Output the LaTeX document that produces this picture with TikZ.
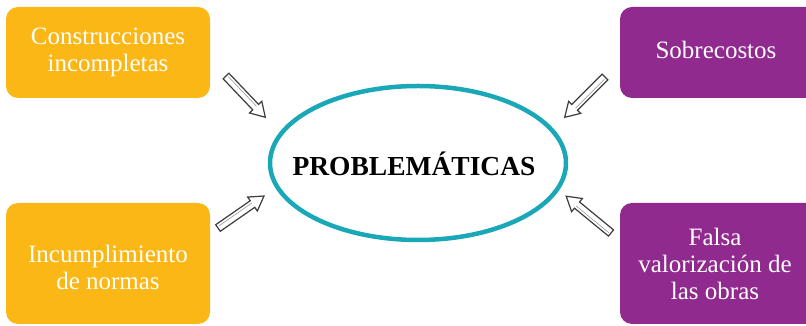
\documentclass[tikz,border=0pt]{standalone}
\usepackage{fontspec}
\setmainfont{Liberation Serif}
\definecolor{boxorange}{HTML}{FBB715}
\definecolor{boxpurple}{HTML}{912A8E}
\definecolor{ringteal}{HTML}{1AA8B9}
\definecolor{arrgray}{HTML}{3C3C3C}
\tikzset{
  orangebox/.style={fill=boxorange, rounded corners=12pt, draw=none},
  purplebox/.style={fill=boxpurple, rounded corners=12pt, draw=none},
  boxtext/.style={text=white, font=\fontsize{25}{27}\selectfont, align=center, inner sep=0pt},
  blockarrowline/.style={draw=arrgray, fill=white, line width=1.2pt, line join=miter},
}
\newcommand\myblockarrow[3]{%
  \begin{scope}[shift={#1}, rotate=#2]
    \pgfmathsetmacro\hb{#3-14}
    \draw[blockarrowline] (0,-4) -- (\hb,-4) -- (\hb,-8.5) -- (#3,0) -- (\hb,8.5) -- (\hb,4) -- (0,4) -- cycle;
    \draw[arrgray!60, line width=0.5pt] (2,1.2) -- (\hb,1.2);
  \end{scope}}
\begin{document}
\begin{tikzpicture}[x=1pt,y=1pt]
\useasboundingbox (0,0) rectangle (806,326);
\clip (0,0) rectangle (806,326);
% boxes
\path[orangebox] (6,228) rectangle (210,319);
\path[purplebox] (620,228) rectangle (820,319);
\path[orangebox] (6,2) rectangle (210,123);
\path[purplebox] (620,2) rectangle (820,123);
\node[boxtext] (tl) at (108,274) {Construcciones\\incompletas};
\node[boxtext] (tr) at (716,276) {Sobrecostos};
\node[boxtext] (bl) at (108,59) {Incumplimiento\\de normas};
\node[boxtext] (br) at (715,62) {Falsa\\valorización de\\las obras};
% ellipse
\draw[ringteal, line width=4.5pt] (418,163) ellipse [x radius=148pt, y radius=77pt];
\node[font=\fontsize{27.5}{30}\selectfont\bfseries, inner sep=0pt] (center) at (414,162) {PROBLEMÁTICAS};
% arrows
\coordinate (a1) at (226,250);
\coordinate (a2) at (218,98);
\coordinate (a3) at (605,249);
\coordinate (a4) at (611,93);
\myblockarrow{(a1)}{-46.4}{57}
\myblockarrow{(a2)}{34.8}{56}
\myblockarrow{(a3)}{-135}{57}
\myblockarrow{(a4)}{140.6}{58}
\end{tikzpicture}
\end{document}
